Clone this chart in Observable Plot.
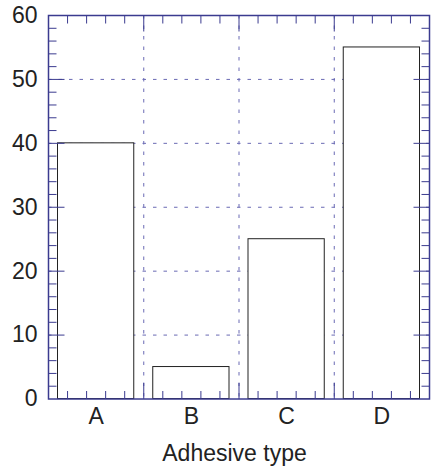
<!DOCTYPE html>
<html><head><meta charset="utf-8">
<script src="https://cdn.jsdelivr.net/npm/d3@7"></script>
<script src="https://cdn.jsdelivr.net/npm/@observablehq/plot@0.6"></script>
<style>body{margin:0;background:#fff}</style>
</head><body><div id="chart"></div>
<script>
const categories = ["A", "B", "C", "D"];
const values = [40, 5, 25, 55];
const yTicks = [0, 10, 20, 30, 40, 50, 60];
const xLabel = "Adhesive type";

const bars = categories.map((c, i) => ({c, i, v: values[i]}));
const n = categories.length;
const yMinor = d3.range(0, 31).map(k => k * 2).filter(v => v % 10 !== 0);
const yGrid = yTicks.slice(1, -1);
const xGrid = d3.range(1, n);
const xMinor = d3.range(0, n * 5).map(k => k / 5).filter(v => Math.abs(v - Math.round(v)) > 1e-6);
const xCenters = categories.map((c, i) => i + 0.5);

const AX = "#3b3b8f";
const GR = "#6a6ab4";
const tickSym = (dx, dy, len) => ({draw(ctx) { ctx.moveTo(0, 0); ctx.lineTo(dx * len, dy * len); }});
const tk = (data, x, y, sym) => Plot.dot(data, {x, y, symbol: sym, r: 1, fill: "none", stroke: AX, strokeWidth: 1});

const chart = Plot.plot({
  width: 434, height: 469,
  marginLeft: 48, marginRight: 5, marginTop: 15, marginBottom: 70.5,
  x: {domain: [0, n], axis: null},
  y: {domain: [0, 60], axis: null},
  style: {fontFamily: "'Liberation Sans', Arial, Helvetica, sans-serif", background: "white", color: "#222"},
  marks: [
    Plot.ruleY(yGrid, {stroke: GR, strokeDasharray: "3.5,7", strokeWidth: 1}),
    Plot.ruleX(xGrid, {stroke: GR, strokeDasharray: "3.5,7", strokeWidth: 1}),
    Plot.rect(bars, {x1: d => d.i, x2: d => d.i + 1, y1: () => 0, y2: "v", insetLeft: 9.5, insetRight: 9.5, fill: "white", stroke: "#222", strokeWidth: 1}),
    tk(yMinor, () => 0, d => d, tickSym(1, 0, 8)),
    tk(yMinor, () => n, d => d, tickSym(-1, 0, 8)),
    tk(yGrid, () => 0, d => d, tickSym(1, 0, 16)),
    tk(yGrid, () => n, d => d, tickSym(-1, 0, 16)),
    tk(xMinor, d => d, () => 0, tickSym(0, -1, 8)),
    tk(xMinor, d => d, () => 60, tickSym(0, 1, 8)),
    tk(xGrid, d => d, () => 0, tickSym(0, -1, 16)),
    tk(xGrid, d => d, () => 60, tickSym(0, 1, 16)),
    Plot.frame({stroke: AX, strokeWidth: 1.5}),
    Plot.axisY(yTicks, {anchor: "left", tickSize: 0, tickPadding: 11, fontSize: 23, label: null, fill: "#222"}),
    Plot.axisX(xCenters, {anchor: "bottom", tickSize: 0, tickPadding: 8.5, fontSize: 23, label: null, tickFormat: d => categories[Math.floor(d)], fill: "#222"}),
    Plot.text([xLabel], {frameAnchor: "bottom", dy: 62, dx: -4.5, fontSize: 23, fill: "#222"})
  ]
});
document.getElementById("chart").appendChild(chart);
</script>
</body></html>
